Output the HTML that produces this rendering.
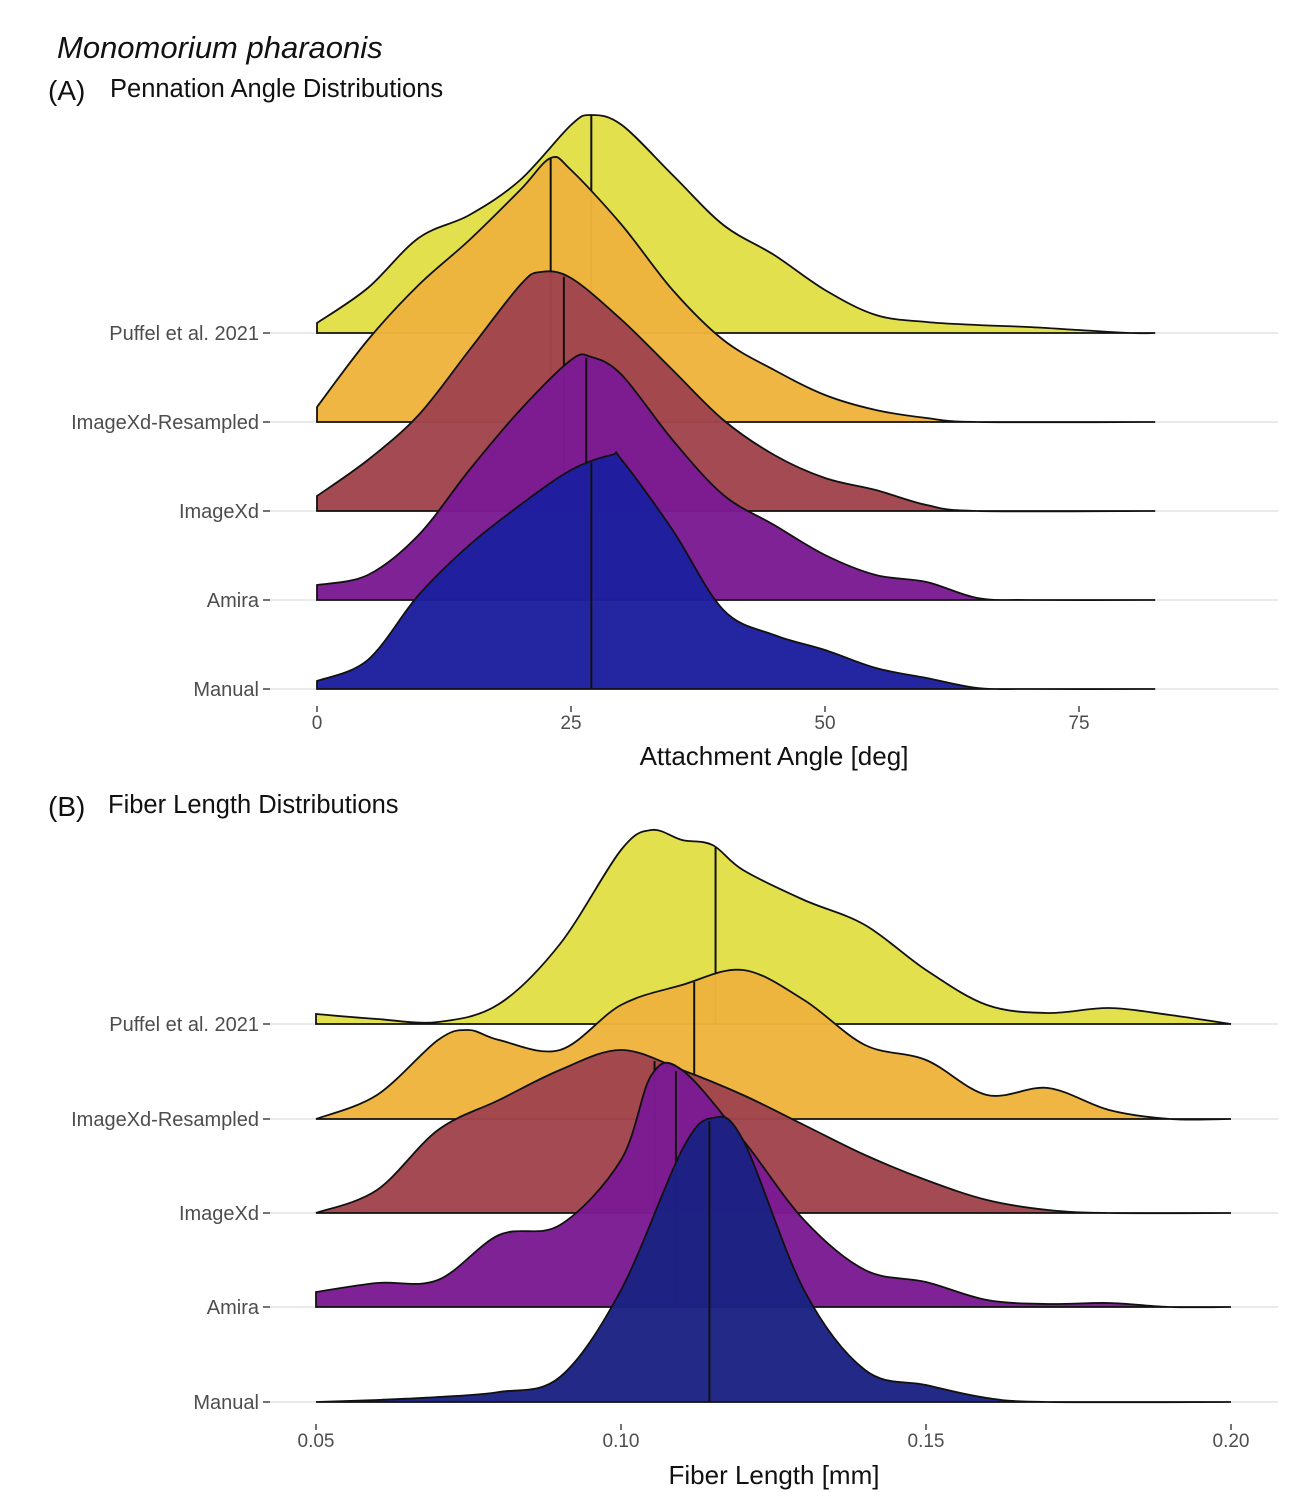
<!DOCTYPE html>
<html><head><meta charset="utf-8"><style>
body{margin:0;background:#fff;}
svg{display:block;font-family:"Liberation Sans",sans-serif;}
</style></head><body>
<svg id="c" width="1298" height="1504">
<text x="57" y="58" font-size="31" font-style="italic" fill="#111">Monomorium pharaonis</text>
<text x="48" y="100" font-size="28" fill="#111">(A)</text>
<text x="110" y="97" font-size="25.5" fill="#111">Pennation Angle Distributions</text>
<text x="48" y="816" font-size="28" fill="#111">(B)</text>
<text x="108" y="813" font-size="25.5" fill="#111">Fiber Length Distributions</text>
<text x="774" y="765" font-size="26" text-anchor="middle" fill="#111">Attachment Angle [deg]</text>
<text x="774" y="1484" font-size="26" text-anchor="middle" fill="#111">Fiber Length [mm]</text>
<g id="ga"></g>
<g id="gb"></g>
</svg>
<script>
const groups = ["Puffel et al. 2021","ImageXd-Resampled","ImageXd","Amira","Manual"];
const colorsA = ["#e2df48","#eeb43e","#a0444c","#7b1b93","#1d1f9e"];
const colorsB = ["#e2df48","#eeb43e","#a0444c","#7b1b93","#1b2282"];
const xsA = [
 [0,5,10,15,20,25,27,30,35,40,45,50,55,60,65,70,75,80,82.5],
 [0,5,10,15,20,23,25,30,35,40,45,50,55,60,65,82.5],
 [0,5,10,15,20,22,25,30,35,40,45,50,55,60,65,82.5],
 [0,5,10,15,20,25,27,30,35,40,45,50,55,60,65,70,82.5],
 [0,5,10,15,20,25,29,30,35,40,45,50,55,60,65,70,82.5]];
const ysA = [
 [10,45,95,118,153,208,218,208,158,108,78,43,18,11,8,6,3,0,0],
 [15,82,137,182,232,264,252,197,132,82,52,27,12,4,0,0],
 [15,51,96,161,226,239,233,191,141,91,56,33,21,6,0,0],
 [15,25,65,130,190,240,243,225,160,105,75,45,25,18,2,0,0],
 [8,29,94,144,184,219,234,229,159,79,54,39,21,11,1,0,0]];
const mediansA = [27,23,24.3,26.5,27];
const ticksA = [0,25,50,75];
const xsB = [
 [0.05,0.06,0.07,0.08,0.09,0.10,0.105,0.11,0.115,0.12,0.13,0.14,0.15,0.16,0.17,0.18,0.19,0.20],
 [0.05,0.06,0.07,0.075,0.08,0.09,0.10,0.11,0.12,0.13,0.14,0.15,0.16,0.17,0.18,0.19,0.20],
 [0.05,0.06,0.07,0.08,0.09,0.10,0.11,0.12,0.13,0.14,0.15,0.16,0.17,0.18,0.20],
 [0.05,0.06,0.07,0.08,0.09,0.10,0.105,0.11,0.12,0.13,0.14,0.15,0.16,0.17,0.18,0.19,0.20],
 [0.05,0.06,0.07,0.08,0.09,0.10,0.11,0.115,0.12,0.13,0.14,0.15,0.16,0.17,0.20]];
const ysB = [
 [10,5,2,20,80,174,194,184,179,154,124,99,54,19,11,16,9,0],
 [0,24,79,89,79,69,114,134,149,119,74,59,24,31,9,0,0],
 [0,23,83,113,143,163,143,118,88,58,33,13,3,0,0],
 [15,24,27,72,82,147,232,237,167,87,37,25,7,3,4,0,0],
 [0,2,5,10,25,112,252,284,262,112,32,17,4,0,0]];
const mediansB = [0.1155,0.112,0.1055,0.109,0.1145];
const ticksB = [0.05,0.10,0.15,0.20];
const tickLabB = ["0.05","0.10","0.15","0.20"];

const NS="http://www.w3.org/2000/svg";
function mk(p,t,a){const e=document.createElementNS(NS,t);for(const k in a)e.setAttribute(k,a[k]);p.appendChild(e);return e;}
function spline(pts){let d="M"+pts[0][0]+","+pts[0][1];
 for(let i=0;i<pts.length-1;i++){const p0=pts[Math.max(0,i-1)],p1=pts[i],p2=pts[i+1],p3=pts[Math.min(pts.length-1,i+2)];
  d+=" C"+(p1[0]+(p2[0]-p0[0])/6)+","+(p1[1]+(p2[1]-p0[1])/6)+" "+(p2[0]-(p3[0]-p1[0])/6)+","+(p2[1]-(p3[1]-p1[1])/6)+" "+p2[0]+","+p2[1];}
 return d;}
function interp(xs,ys,x){for(let i=0;i<xs.length-1;i++){if(x>=xs[i]&&x<=xs[i+1]){const t=(x-xs[i])/(xs[i+1]-xs[i]);return ys[i]+t*(ys[i+1]-ys[i]);}}return 0;}
function panel(g,xs,ys,meds,colors,sx,bases,ticks,tlab,tickY,name){
 bases.forEach((b,i)=>{
  const gl=mk(g,"line",{x1:270,x2:1278,y1:b,y2:b,stroke:"#e3e3e3","stroke-width":1.5});
  
  
  const tk=mk(g,"line",{x1:263,x2:270,y1:b,y2:b,stroke:"#444","stroke-width":1.5});
  
  
  const tx=mk(g,"text",{x:259,y:b+7,"font-size":20,"text-anchor":"end",fill:"#4d4d4d"});tx.textContent=groups[i];
  
  
 });
 ticks.forEach((t,i)=>{
  const tk=mk(g,"line",{x1:sx(t),x2:sx(t),y1:tickY-8,y2:tickY-2,stroke:"#444","stroke-width":1.5});
  
  
  const tx=mk(g,"text",{x:sx(t),y:tickY+15,"font-size":19,"text-anchor":"middle",fill:"#4d4d4d"});tx.textContent=tlab[i];
  
  
 });
 xs.forEach((xa,i)=>{
  const b=bases[i];const pts=xa.map((x,j)=>[sx(x),b-ys[i][j]]);
  const d=spline(pts)+" L"+sx(xa[xa.length-1])+","+b+" L"+sx(xa[0])+","+b+" Z";
  const p=mk(g,"path",{d:d,fill:colors[i],"fill-opacity":0.97,stroke:"#111","stroke-width":1.8});
  
  
  const h=interp(xa,ys[i],meds[i]);
  const m=mk(g,"line",{x1:sx(meds[i]),x2:sx(meds[i]),y1:b,y2:b-h,stroke:"#111","stroke-width":2});
  
  
 });
}
const sxA=v=>317+v*10.16;
const sxB=v=>316+(v-0.05)*6100;
panel(document.getElementById("ga"),xsA,ysA,mediansA,colorsA,sxA,[333,422,511,600,689],ticksA,ticksA.map(String),714,"panel-a");
panel(document.getElementById("gb"),xsB,ysB,mediansB,colorsB,sxB,[1024,1119,1213,1307,1402],ticksB,tickLabB,1432,"panel-b");
</script>
</body></html>
